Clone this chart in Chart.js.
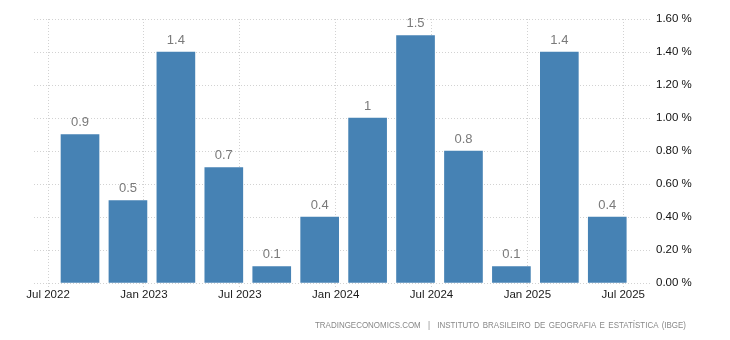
<!DOCTYPE html>
<html>
<head>
<meta charset="utf-8">
<script src="https://cdn.jsdelivr.net/npm/chart.js@4.4.1/dist/chart.umd.min.js"></script>
<style>
    html, body { margin: 0; padding: 0; background: #fff; }
    #wrap { position: relative; width: 730px; height: 340px; }
    #source {
        position: absolute;
        right: 44px;
        top: 320px;
        font: 8.5px "Liberation Sans", Arial, sans-serif;
        line-height: 11px;
        word-spacing: 1.5px;
        color: #888;
        white-space: nowrap;
        transform-origin: right center;
    }
</style>
</head>
<body>
<div id="wrap">
    <canvas id="gdpChart" width="730" height="340"></canvas>
    <div id="source">TRADINGECONOMICS.COM &nbsp;| &nbsp;INSTITUTO BRASILEIRO DE GEOGRAFIA E ESTATÍSTICA (IBGE)</div>
</div>
<script>
// Quarterly growth rate, each quarter placed on its closing month
const quarters = ['2022-09', '2022-12', '2023-03', '2023-06', '2023-09', '2023-12',
                  '2024-03', '2024-06', '2024-09', '2024-12', '2025-03', '2025-06'];
const growth = [0.9, 0.5, 1.4, 0.7, 0.1, 0.4, 1, 1.5, 0.8, 0.1, 1.4, 0.4];
const xTickLabels = ['Jul 2022', 'Jan 2023', 'Jul 2023', 'Jan 2024', 'Jul 2024', 'Jan 2025', 'Jul 2025'];
const yTicks = [0, 0.2, 0.4, 0.6, 0.8, 1.0, 1.2, 1.4, 1.6];

const monthNames = ['Jan', 'Feb', 'Mar', 'Apr', 'May', 'Jun', 'Jul', 'Aug', 'Sep', 'Oct', 'Nov', 'Dec'];

// months counted from Jan 2022
const fromIso = (s) => {
    const [y, m] = s.split('-').map(Number);
    return (y - 2022) * 12 + (m - 1);
};
const fromLabel = (s) => {
    const [mon, y] = s.split(' ');
    return (Number(y) - 2022) * 12 + monthNames.indexOf(mon);
};

const points = quarters.map((q, i) => ({ x: fromIso(q), y: growth[i] }));
const tickPos = xTickLabels.map(fromLabel);

// squeeze the source line into a condensed look
const source = document.getElementById('source');
source.style.transform = `scaleX(${371 / source.offsetWidth})`;

// value printed above each bar
const barValues = {
    id: 'barValues',
    afterDatasetsDraw(chart) {
        const ctx = chart.ctx;
        const meta = chart.getDatasetMeta(0);
        ctx.save();
        ctx.font = '13px "Liberation Sans", Arial, sans-serif';
        ctx.fillStyle = '#7a7a7a';
        ctx.textAlign = 'center';
        ctx.textBaseline = 'middle';
        meta.data.forEach((bar, i) => {
            ctx.fillText(String(growth[i]), bar.x, bar.y - 12);
        });
        ctx.restore();
    }
};

const ctx = document.getElementById('gdpChart').getContext('2d');
new Chart(ctx, {
    type: 'bar',
    data: {
        datasets: [{
            data: points,
            backgroundColor: '#4682b4',
            borderWidth: 0,
            barThickness: 38
        }]
    },
    options: {
        responsive: false,
        animation: false,
        layout: { padding: { left: 34, top: 19, right: 0, bottom: 0 } },
        plugins: {
            legend: { display: false },
            tooltip: { enabled: false }
        },
        scales: {
            x: {
                type: 'linear',
                offset: false,
                min: 5.12,
                max: 43.8,
                grid: {
                    offset: false,
                    color: '#d2d2d2',
                    tickColor: '#d2d2d2',
                    tickLength: 4,
                    tickBorderDash: [1, 2],
                    lineWidth: 1
                },
                border: { display: false, dash: [1, 2] },
                afterBuildTicks: (scale) => {
                    scale.ticks = tickPos.map(v => ({ value: v }));
                },
                afterFit: (scale) => {
                    scale.height = 57;
                    scale.paddingLeft = 0;
                    scale.paddingRight = 0;
                },
                ticks: {
                    autoSkip: false,
                    maxRotation: 0,
                    padding: 1,
                    color: '#1a1a1a',
                    font: { family: '"Liberation Sans", Arial, sans-serif', size: 11.5 },
                    callback: (v) => xTickLabels[tickPos.indexOf(v)]
                }
            },
            y: {
                position: 'right',
                min: 0,
                max: 1.6,
                grid: {
                    color: '#d2d2d2',
                    drawTicks: false,
                    lineWidth: 1
                },
                border: { display: false, dash: [1, 2] },
                afterBuildTicks: (scale) => {
                    scale.ticks = yTicks.map(v => ({ value: v }));
                },
                afterFit: (scale) => {
                    scale.width = 78;
                    scale.paddingTop = 0;
                    scale.paddingBottom = 0;
                },
                ticks: {
                    padding: 4,
                    color: '#111',
                    font: { family: '"Liberation Sans", Arial, sans-serif', size: 11.5 },
                    callback: (v) => v.toFixed(2) + ' %'
                }
            }
        }
    },
    plugins: [barValues]
});
</script>
</body>
</html>
